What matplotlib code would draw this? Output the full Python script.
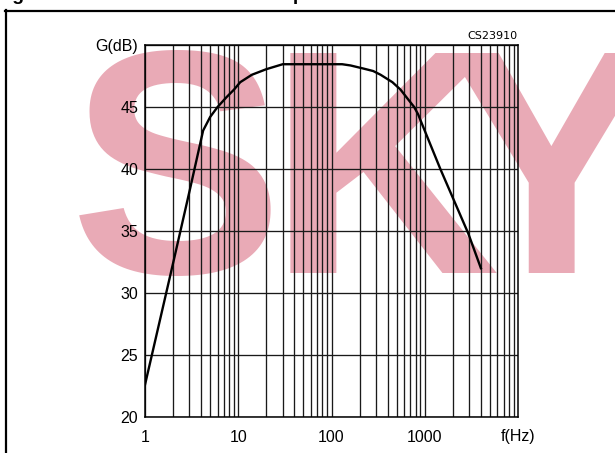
import numpy as np
import matplotlib
matplotlib.use("Agg")
import matplotlib.pyplot as plt
from matplotlib.lines import Line2D

# gain curve (Hz, dB)
freq = [1, 2, 3, 4.2, 5, 6, 7.5, 9, 10.5, 14, 20, 30, 130, 160, 220, 280, 336,
        450, 550, 650, 770, 850, 950, 1470, 2930, 4000]
gain = [22.6, 32.4, 38.2, 43.1, 44.2, 45.0, 45.8, 46.4, 47.0, 47.6, 48.05, 48.45,
        48.45, 48.35, 48.1, 47.9, 47.6, 47.0, 46.4, 45.7, 45.0, 44.4, 43.5, 40.0,
        34.8, 32.0]

y_ticks = [20, 25, 30, 35, 40, 45, 50]
y_labels = ["20", "25", "30", "35", "40", "45", "G(dB)"]
x_ticks = [1, 10, 100, 1000, 10000]
x_labels = ["1", "10", "100", "1000", "f(Hz)"]

W, H = 615, 453
fig = plt.figure(figsize=(W / 100, H / 100), dpi=100)

# watermark behind everything, one letter at a time
for letter, xpx in [("S", 70), ("K", 269), ("Y", 445)]:
    fig.text(xpx / W, 1 - 273 / H, letter, fontsize=230, fontweight="bold",
             family="Liberation Sans", color="#e9aab6", ha="left",
             va="baseline", zorder=-5)

# cut-off caption at the very top (only descenders show)
fig.text(-4.6 / W, 1 + 0.5 / H, "Figure 10. Audio Bandwidth Response",
         fontsize=14, fontweight="bold", family="Liberation Sans",
         ha="left", va="baseline")

# outer frame
fig.add_artist(Line2D([5.5 / W, 5.5 / W], [1 - 10 / H, 0], color="black", lw=1.6,
                      transform=fig.transFigure))
fig.add_artist(Line2D([5 / W, 1], [1 - 10.5 / H, 1 - 10.5 / H], color="black",
                      lw=1.6, transform=fig.transFigure))

ax = fig.add_axes([145 / W, 1 - 417 / H, 373 / W, 372 / H], zorder=1)
ax.set_facecolor("none")
ax.set_xscale("log")
ax.set_xlim(1, 10000)
ax.set_ylim(20, 50)

# grid: every 1..9 per decade, every 5 dB
for dec in [1, 10, 100, 1000]:
    for m in range(1, 10):
        ax.axvline(dec * m, color="#1a1a1a", lw=0.95, zorder=1)
for v in y_ticks:
    ax.axhline(v, color="#1a1a1a", lw=0.95, zorder=1)

ax.plot(freq, gain, color="black", lw=1.7, zorder=3)

ax.set_yticks(y_ticks)
ax.set_yticklabels(y_labels)
ax.set_xticks(x_ticks)
ax.set_xticklabels(x_labels)
ax.minorticks_off()
ax.tick_params(axis="y", length=0, pad=5, labelsize=11.5)
ax.tick_params(axis="x", length=0, pad=9, labelsize=11.5)
for lab in ax.get_xticklabels() + ax.get_yticklabels():
    lab.set_family("Liberation Sans")
for s in ax.spines.values():
    s.set_color("black")
    s.set_linewidth(1.1)

ax.text(1.0, 1.0 + 4 / 372, "CS23910", transform=ax.transAxes, ha="right",
        va="bottom", fontsize=8, family="DejaVu Sans")

fig.savefig("out.png", dpi=100)
